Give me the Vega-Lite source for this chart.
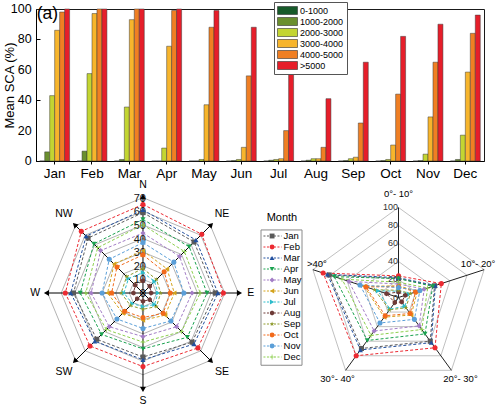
{
"$schema": "https://vega.github.io/schema/vega-lite/v6.json",
"padding": {"left": 2, "top": 1, "right": 0, "bottom": 0},
"autosize": {"type": "pad"},
"background": "white",
"config": {"font": "Liberation Sans", "view": {"stroke": null}},
"bounds": "flush",
"spacing": 23,
"resolve": {"scale": {"color": "independent", "shape": "independent"}},
"datasets": {
"sca": [
{"m":"Jan","e":"0-1000","v":0},{"m":"Jan","e":"1000-2000","v":6},{"m":"Jan","e":"2000-3000","v":43},{"m":"Jan","e":"3000-4000","v":86},{"m":"Jan","e":"4000-5000","v":98},{"m":"Jan","e":">5000","v":100},
{"m":"Feb","e":"0-1000","v":0},{"m":"Feb","e":"1000-2000","v":6.5},{"m":"Feb","e":"2000-3000","v":57.5},{"m":"Feb","e":"3000-4000","v":97},{"m":"Feb","e":"4000-5000","v":100},{"m":"Feb","e":">5000","v":100},
{"m":"Mar","e":"0-1000","v":0},{"m":"Mar","e":"1000-2000","v":1},{"m":"Mar","e":"2000-3000","v":35.5},{"m":"Mar","e":"3000-4000","v":93},{"m":"Mar","e":"4000-5000","v":100},{"m":"Mar","e":">5000","v":100},
{"m":"Apr","e":"0-1000","v":0},{"m":"Apr","e":"1000-2000","v":0},{"m":"Apr","e":"2000-3000","v":8.5},{"m":"Apr","e":"3000-4000","v":75.5},{"m":"Apr","e":"4000-5000","v":99},{"m":"Apr","e":">5000","v":100},
{"m":"May","e":"0-1000","v":0},{"m":"May","e":"1000-2000","v":0},{"m":"May","e":"2000-3000","v":1},{"m":"May","e":"3000-4000","v":37},{"m":"May","e":"4000-5000","v":88},{"m":"May","e":">5000","v":99},
{"m":"Jun","e":"0-1000","v":0},{"m":"Jun","e":"1000-2000","v":0.3},{"m":"Jun","e":"2000-3000","v":1},{"m":"Jun","e":"3000-4000","v":9},{"m":"Jun","e":"4000-5000","v":56},{"m":"Jun","e":">5000","v":88},
{"m":"Jul","e":"0-1000","v":0},{"m":"Jul","e":"1000-2000","v":0.5},{"m":"Jul","e":"2000-3000","v":1},{"m":"Jul","e":"3000-4000","v":1.5},{"m":"Jul","e":"4000-5000","v":20},{"m":"Jul","e":">5000","v":58},
{"m":"Aug","e":"0-1000","v":0},{"m":"Aug","e":"1000-2000","v":0.5},{"m":"Aug","e":"2000-3000","v":1.5},{"m":"Aug","e":"3000-4000","v":1.5},{"m":"Aug","e":"4000-5000","v":9},{"m":"Aug","e":">5000","v":41},
{"m":"Sep","e":"0-1000","v":0},{"m":"Sep","e":"1000-2000","v":0.3},{"m":"Sep","e":"2000-3000","v":1.5},{"m":"Sep","e":"3000-4000","v":2.5},{"m":"Sep","e":"4000-5000","v":25},{"m":"Sep","e":">5000","v":65},
{"m":"Oct","e":"0-1000","v":0},{"m":"Oct","e":"1000-2000","v":0.3},{"m":"Oct","e":"2000-3000","v":1},{"m":"Oct","e":"3000-4000","v":10.5},{"m":"Oct","e":"4000-5000","v":44},{"m":"Oct","e":">5000","v":82},
{"m":"Nov","e":"0-1000","v":0},{"m":"Nov","e":"1000-2000","v":0.3},{"m":"Nov","e":"2000-3000","v":4.5},{"m":"Nov","e":"3000-4000","v":29},{"m":"Nov","e":"4000-5000","v":65},{"m":"Nov","e":">5000","v":90},
{"m":"Dec","e":"0-1000","v":0},{"m":"Dec","e":"1000-2000","v":1},{"m":"Dec","e":"2000-3000","v":17},{"m":"Dec","e":"3000-4000","v":58.5},{"m":"Dec","e":"4000-5000","v":84},{"m":"Dec","e":">5000","v":96}
],
"yt": [{"t":0},{"t":20},{"t":40},{"t":60},{"t":80},{"t":100}],
"aspect": [
{"m":"Jan","d":"N","v":59},{"m":"Jan","d":"NE","v":53},{"m":"Jan","d":"E","v":53},{"m":"Jan","d":"SE","v":51},{"m":"Jan","d":"S","v":47},{"m":"Jan","d":"SW","v":48},{"m":"Jan","d":"W","v":51},{"m":"Jan","d":"NW","v":57},
{"m":"Feb","d":"N","v":65},{"m":"Feb","d":"NE","v":61},{"m":"Feb","d":"E","v":59},{"m":"Feb","d":"SE","v":57},{"m":"Feb","d":"S","v":54},{"m":"Feb","d":"SW","v":55},{"m":"Feb","d":"W","v":57},{"m":"Feb","d":"NW","v":64},
{"m":"Mar","d":"N","v":61},{"m":"Mar","d":"NE","v":55},{"m":"Mar","d":"E","v":55},{"m":"Mar","d":"SE","v":53},{"m":"Mar","d":"S","v":49},{"m":"Mar","d":"SW","v":50},{"m":"Mar","d":"W","v":53},{"m":"Mar","d":"NW","v":59},
{"m":"Apr","d":"N","v":54},{"m":"Apr","d":"NE","v":48},{"m":"Apr","d":"E","v":47},{"m":"Apr","d":"SE","v":46},{"m":"Apr","d":"S","v":41},{"m":"Apr","d":"SW","v":43},{"m":"Apr","d":"W","v":46},{"m":"Apr","d":"NW","v":51},
{"m":"May","d":"N","v":44},{"m":"May","d":"NE","v":38},{"m":"May","d":"E","v":36},{"m":"May","d":"SE","v":35},{"m":"May","d":"S","v":32},{"m":"May","d":"SW","v":35},{"m":"May","d":"W","v":38},{"m":"May","d":"NW","v":44},
{"m":"Jun","d":"N","v":31},{"m":"Jun","d":"NE","v":25},{"m":"Jun","d":"E","v":23},{"m":"Jun","d":"SE","v":23},{"m":"Jun","d":"S","v":20},{"m":"Jun","d":"SW","v":21},{"m":"Jun","d":"W","v":26},{"m":"Jun","d":"NW","v":30},
{"m":"Jul","d":"N","v":15},{"m":"Jul","d":"NE","v":12},{"m":"Jul","d":"E","v":11},{"m":"Jul","d":"SE","v":12},{"m":"Jul","d":"S","v":10},{"m":"Jul","d":"SW","v":11},{"m":"Jul","d":"W","v":14},{"m":"Jul","d":"NW","v":15},
{"m":"Aug","d":"N","v":9},{"m":"Aug","d":"NE","v":7},{"m":"Aug","d":"E","v":6},{"m":"Aug","d":"SE","v":7},{"m":"Aug","d":"S","v":6},{"m":"Aug","d":"SW","v":6},{"m":"Aug","d":"W","v":7},{"m":"Aug","d":"NW","v":8},
{"m":"Sep","d":"N","v":18},{"m":"Sep","d":"NE","v":14},{"m":"Sep","d":"E","v":13},{"m":"Sep","d":"SE","v":14},{"m":"Sep","d":"S","v":12},{"m":"Sep","d":"SW","v":13},{"m":"Sep","d":"W","v":16},{"m":"Sep","d":"NW","v":17},
{"m":"Oct","d":"N","v":28},{"m":"Oct","d":"NE","v":22},{"m":"Oct","d":"E","v":20},{"m":"Oct","d":"SE","v":21},{"m":"Oct","d":"S","v":18},{"m":"Oct","d":"SW","v":19},{"m":"Oct","d":"W","v":23},{"m":"Oct","d":"NW","v":27},
{"m":"Nov","d":"N","v":37},{"m":"Nov","d":"NE","v":32},{"m":"Nov","d":"E","v":30},{"m":"Nov","d":"SE","v":29},{"m":"Nov","d":"S","v":26},{"m":"Nov","d":"SW","v":27},{"m":"Nov","d":"W","v":30},{"m":"Nov","d":"NW","v":35},
{"m":"Dec","d":"N","v":50},{"m":"Dec","d":"NE","v":43},{"m":"Dec","d":"E","v":42},{"m":"Dec","d":"SE","v":40},{"m":"Dec","d":"S","v":36},{"m":"Dec","d":"SW","v":38},{"m":"Dec","d":"W","v":42},{"m":"Dec","d":"NW","v":47}
],
"slope": [
{"m":"Jan","s":"0°- 10°","v":21},{"m":"Jan","s":"10°- 20°","v":42},{"m":"Jan","s":"20°- 30°","v":60},{"m":"Jan","s":"30°- 40°","v":70},{"m":"Jan","s":">40°","v":81},
{"m":"Feb","s":"0°- 10°","v":24},{"m":"Feb","s":"10°- 20°","v":50},{"m":"Feb","s":"20°- 30°","v":69},{"m":"Feb","s":"30°- 40°","v":80},{"m":"Feb","s":">40°","v":88},
{"m":"Mar","s":"0°- 10°","v":22},{"m":"Mar","s":"10°- 20°","v":43},{"m":"Mar","s":"20°- 30°","v":62},{"m":"Mar","s":"30°- 40°","v":72},{"m":"Mar","s":">40°","v":83},
{"m":"Apr","s":"0°- 10°","v":21},{"m":"Apr","s":"10°- 20°","v":40},{"m":"Apr","s":"20°- 30°","v":50},{"m":"Apr","s":"30°- 40°","v":59},{"m":"Apr","s":">40°","v":75},
{"m":"May","s":"0°- 10°","v":15},{"m":"May","s":"10°- 20°","v":30},{"m":"May","s":"20°- 30°","v":39},{"m":"May","s":"30°- 40°","v":46},{"m":"May","s":">40°","v":58},
{"m":"Jun","s":"0°- 10°","v":13},{"m":"Jun","s":"10°- 20°","v":22},{"m":"Jun","s":"20°- 30°","v":24},{"m":"Jun","s":"30°- 40°","v":27},{"m":"Jun","s":">40°","v":40},
{"m":"Jul","s":"0°- 10°","v":7},{"m":"Jul","s":"10°- 20°","v":12},{"m":"Jul","s":"20°- 30°","v":12},{"m":"Jul","s":"30°- 40°","v":16},{"m":"Jul","s":">40°","v":24},
{"m":"Aug","s":"0°- 10°","v":6},{"m":"Aug","s":"10°- 20°","v":8},{"m":"Aug","s":"20°- 30°","v":6},{"m":"Aug","s":"30°- 40°","v":7},{"m":"Aug","s":">40°","v":14},
{"m":"Sep","s":"0°- 10°","v":8},{"m":"Sep","s":"10°- 20°","v":14},{"m":"Sep","s":"20°- 30°","v":14},{"m":"Sep","s":"30°- 40°","v":17},{"m":"Sep","s":">40°","v":28},
{"m":"Oct","s":"0°- 10°","v":12},{"m":"Oct","s":"10°- 20°","v":20},{"m":"Oct","s":"20°- 30°","v":22},{"m":"Oct","s":"30°- 40°","v":25},{"m":"Oct","s":">40°","v":38},
{"m":"Nov","s":"0°- 10°","v":11},{"m":"Nov","s":"10°- 20°","v":25},{"m":"Nov","s":"20°- 30°","v":30},{"m":"Nov","s":"30°- 40°","v":35},{"m":"Nov","s":">40°","v":45},
{"m":"Dec","s":"0°- 10°","v":17},{"m":"Dec","s":"10°- 20°","v":34},{"m":"Dec","s":"20°- 30°","v":44},{"m":"Dec","s":"30°- 40°","v":52},{"m":"Dec","s":">40°","v":66}
],
"dirs": [{"d":"N"},{"d":"NE"},{"d":"E"},{"d":"SE"},{"d":"S"},{"d":"SW"},{"d":"W"},{"d":"NW"}],
"ringsB": [{"r":10,"k":[0,1,2,3,4,5,6,7]},{"r":20,"k":[0,1,2,3,4,5,6,7]},{"r":30,"k":[0,1,2,3,4,5,6,7]},{"r":40,"k":[0,1,2,3,4,5,6,7]},{"r":50,"k":[0,1,2,3,4,5,6,7]},{"r":60,"k":[0,1,2,3,4,5,6,7]},{"r":70,"k":[0,1,2,3,4,5,6,7]}],
"ticksB": [{"t":0},{"t":10},{"t":20},{"t":30},{"t":40},{"t":50},{"t":60},{"t":70}],
"cats": [{"s":"0°- 10°"},{"s":"10°- 20°"},{"s":"20°- 30°"},{"s":"30°- 40°"},{"s":">40°"}],
"ringsC": [{"r":20,"k":[0,1,2,3,4]},{"r":40,"k":[0,1,2,3,4]},{"r":60,"k":[0,1,2,3,4]},{"r":80,"k":[0,1,2,3,4]},{"r":100,"k":[0,1,2,3,4]}],
"ticksC": [{"t":0},{"t":20},{"t":40},{"t":60},{"t":80},{"t":100}],
"months": [{"m":"Jan"},{"m":"Feb"},{"m":"Mar"},{"m":"Apr"},{"m":"May"},{"m":"Jun"},{"m":"Jul"},{"m":"Aug"},{"m":"Sep"},{"m":"Oct"},{"m":"Nov"},{"m":"Dec"}]
},
"vconcat": [
{
 "width": 448, "height": 152,
 "view": {"stroke": "#1a1a1a", "strokeWidth": 1},
 "layer": [
  {"data": {"name": "sca"},
   "mark": {"type": "bar", "stroke": "#3a3a3a", "strokeWidth": 0.5},
   "encoding": {
    "x": {"field": "m", "type": "nominal", "sort": ["Jan","Feb","Mar","Apr","May","Jun","Jul","Aug","Sep","Oct","Nov","Dec"],
          "scale": {"paddingInner": 0.2, "paddingOuter": 0.1},
          "axis": {"title": null, "labelAngle": 0, "labelFontSize": 13.5, "labelColor": "#000", "tickSize": 3, "tickColor": "#000", "domainColor": "#000", "labelPadding": 2}},
    "xOffset": {"field": "e", "type": "nominal", "sort": ["0-1000","1000-2000","2000-3000","3000-4000","4000-5000",">5000"]},
    "y": {"field": "v", "type": "quantitative", "scale": {"domain": [0, 100], "nice": false},
          "axis": {"title": "Mean SCA (%)", "titleFontSize": 13, "titleFontWeight": "normal", "titleColor": "#000", "titleX": -20, "titleY": 76, "titleAlign": "center", "titleBaseline": "bottom", "titleAngle": -90,
                   "values": [0,10,20,30,40,50,60,70,80,90,100], "labels": false,
                   "grid": false, "domainColor": "#000", "tickColor": "#000",
                   "tickSize": {"condition": {"test": "datum.value % 20 == 0", "value": -4}, "value": -2}}},
    "color": {"field": "e", "type": "nominal",
              "scale": {"domain": ["0-1000","1000-2000","2000-3000","3000-4000","4000-5000",">5000"], "range": ["#175a2a","#6a8f2e","#c3d532","#f7b52c","#f07f23","#e61e2a"]},
              "legend": {"orient": "none", "legendX": 238, "legendY": -7, "title": null, "symbolType": "M-2,-0.8H2V0.8H-2Z", "symbolSize": 100,
                         "symbolStrokeColor": "#333", "symbolStrokeWidth": 0.6, "symbolOpacity": 1, "symbolOffset": 5, "labelFontSize": 9, "labelColor": "#000",
                         "labelOffset": 7, "rowPadding": -1.3, "padding": 3, "strokeColor": "#555", "fillColor": "#fff"}}
   }},
  {"data": {"name": "yt"},
   "mark": {"type": "text", "align": "right", "baseline": "middle", "dx": -23, "fontSize": 12.5, "color": "#000"},
   "encoding": {"x": {"datum": "Jan"}, "y": {"field": "t", "type": "quantitative"}, "text": {"field": "t", "type": "quantitative"}}},
  {"data": {"values": [{}]},
   "mark": {"type": "text", "text": "(a)", "fontSize": 17.5, "align": "left", "baseline": "top", "dx": -18, "dy": -4, "color": "#000"},
   "encoding": {"x": {"datum": "Jan"}, "y": {"datum": 100}}}
 ]
},
{
 "hconcat": [
  {
   "width": 216, "height": 218,
   "encoding": {
    "x": {"field": "px", "type": "quantitative", "scale": {"domain": [-78.5, 80], "nice": false, "zero": false}, "axis": null},
    "y": {"field": "py", "type": "quantitative", "scale": {"domain": [-80, 80], "nice": false, "zero": false}, "axis": null}
   },
   "layer": [
    {"data": {"name": "ringsB"},
     "transform": [{"flatten": ["k"]}, {"calculate": "datum.r*sin(datum.k*PI/4)", "as": "px"}, {"calculate": "datum.r*cos(datum.k*PI/4)", "as": "py"}],
     "mark": {"type": "line", "interpolate": "linear-closed", "color": "#a0a0a0", "strokeWidth": 0.8},
     "encoding": {"detail": {"field": "r", "type": "nominal"}, "order": {"field": "k", "type": "quantitative"}}},
    {"data": {"name": "dirs"},
     "transform": [{"calculate": "indexof(['N','NE','E','SE','S','SW','W','NW'], datum.d)", "as": "i"}, {"calculate": "0", "as": "px"}, {"calculate": "0", "as": "py"},
                   {"calculate": "70.8*sin(datum.i*PI/4)", "as": "ex"}, {"calculate": "70.8*cos(datum.i*PI/4)", "as": "ey"}],
     "mark": {"type": "rule", "color": "#000", "strokeWidth": 1},
     "encoding": {"x2": {"field": "ex"}, "y2": {"field": "ey"}}},
    {"data": {"name": "dirs"},
     "transform": [{"calculate": "indexof(['N','NE','E','SE','S','SW','W','NW'], datum.d)", "as": "i"},
                   {"calculate": "70.8*sin(datum.i*PI/4)", "as": "px"}, {"calculate": "70.8*cos(datum.i*PI/4)", "as": "py"}, {"calculate": "datum.i*45", "as": "ang"}],
     "mark": {"type": "point", "shape": "triangle-up", "filled": true, "color": "#000", "size": 36, "opacity": 1},
     "encoding": {"angle": {"field": "ang", "type": "quantitative", "scale": null}}},
    {"data": {"name": "dirs"},
     "transform": [{"calculate": "indexof(['N','NE','E','SE','S','SW','W','NW'], datum.d)", "as": "i"}, {"calculate": "datum.i % 2 == 0 ? 79 : 82", "as": "lr"},
                   {"calculate": "datum.lr*sin(datum.i*PI/4)", "as": "px"}, {"calculate": "datum.lr*cos(datum.i*PI/4)", "as": "py"}],
     "mark": {"type": "text", "fontSize": 10.5, "color": "#000", "align": "center", "baseline": "middle"},
     "encoding": {"text": {"field": "d"}}},
    {"data": {"name": "ticksB"},
     "transform": [{"calculate": "0", "as": "px"}, {"calculate": "datum.t", "as": "py"}],
     "mark": {"type": "text", "align": "right", "baseline": "middle", "dx": 3, "dy": 1, "fontSize": 11, "color": "#111"},
     "encoding": {"text": {"field": "t", "type": "quantitative"}}},
    {"data": {"values": [{}]},
     "mark": {"type": "text", "text": "(b)", "fontSize": 17.5, "align": "left", "baseline": "middle", "color": "#000"},
     "encoding": {"x": {"datum": -78.5}, "y": {"datum": 72.7}}},
    {"data": {"name": "aspect"},
     "transform": [{"calculate": "indexof(['N','NE','E','SE','S','SW','W','NW'], datum.d)", "as": "i"},
                   {"calculate": "datum.v*sin(datum.i*PI/4)", "as": "px"}, {"calculate": "datum.v*cos(datum.i*PI/4)", "as": "py"}],
     "mark": {"type": "line", "interpolate": "linear-closed", "strokeDash": [3, 2], "strokeWidth": 1},
     "encoding": {"color": {"field": "m", "type": "nominal", "scale": {"domain": ["Jan","Feb","Mar","Apr","May","Jun","Jul","Aug","Sep","Oct","Nov","Dec"], "range": ["#5a5a5a","#ec2a32","#22509f","#1aa24f","#a37dc6","#d4a31c","#2dbccb","#6e3a37","#8e9a2b","#f26a1b","#5b9fd8","#8ccf4d"]}, "legend": null},
                  "order": {"field": "i", "type": "quantitative"}}},
    {"data": {"name": "aspect"},
     "transform": [{"calculate": "indexof(['N','NE','E','SE','S','SW','W','NW'], datum.d)", "as": "i"},
                   {"calculate": "datum.v*sin(datum.i*PI/4)", "as": "px"}, {"calculate": "datum.v*cos(datum.i*PI/4)", "as": "py"}],
     "mark": {"type": "point", "filled": true, "size": 26, "opacity": 1},
     "encoding": {"color": {"field": "m", "type": "nominal", "legend": null},
                  "shape": {"field": "m", "type": "nominal", "scale": {"domain": ["Jan","Feb","Mar","Apr","May","Jun","Jul","Aug","Sep","Oct","Nov","Dec"], "range": ["square","circle","triangle-up","triangle-down","diamond","triangle-left","triangle-right","M0,-1L0.866,-0.5L0.866,0.5L0,1L-0.866,0.5L-0.866,-0.5Z","M0,-1L0.2245,-0.309L0.951,-0.309L0.363,0.118L0.588,0.809L0,0.382L-0.588,0.809L-0.363,0.118L-0.951,-0.309L-0.2245,-0.309Z","circle","circle","M-1,-0.15H-0.15V-1H0.15V-0.15H1V0.15H0.15V1H-0.15V0.15H-1Z"]}, "legend": null}}}
   ]
  },
  {
   "width": 41, "height": 218,
   "layer": [
    {"data": {"values": [{}]},
     "mark": {"type": "rect", "fill": "#fff", "stroke": "#8a8a8a", "strokeWidth": 1},
     "encoding": {"x": {"datum": 0, "type": "quantitative", "scale": {"domain": [0, 1], "nice": false, "zero": false}, "axis": null}, "x2": {"datum": 1},
                  "y": {"datum": -0.55, "type": "quantitative", "scale": {"domain": [-4.727, 15.09], "reverse": true, "nice": false, "zero": false}, "axis": null}, "y2": {"datum": 11.75}}},
    {"data": {"values": [{}]},
     "mark": {"type": "text", "text": "Month", "fontSize": 11, "color": "#000"},
     "encoding": {"x": {"datum": 0.51, "type": "quantitative"}, "y": {"datum": -1.64, "type": "quantitative"}}},
    {"data": {"name": "months"},
     "transform": [{"calculate": "indexof(['Jan','Feb','Mar','Apr','May','Jun','Jul','Aug','Sep','Oct','Nov','Dec'], datum.m)", "as": "idx"}],
     "mark": {"type": "rule", "strokeDash": [2, 1.5], "strokeWidth": 1},
     "encoding": {"x": {"datum": 0.06, "type": "quantitative"}, "x2": {"datum": 0.5}, "y": {"field": "idx", "type": "quantitative"},
                  "color": {"field": "m", "type": "nominal", "legend": null}}},
    {"data": {"name": "months"},
     "transform": [{"calculate": "indexof(['Jan','Feb','Mar','Apr','May','Jun','Jul','Aug','Sep','Oct','Nov','Dec'], datum.m)", "as": "idx"}],
     "mark": {"type": "point", "filled": true, "size": 24, "opacity": 1},
     "encoding": {"x": {"datum": 0.27, "type": "quantitative"}, "y": {"field": "idx", "type": "quantitative"},
                  "color": {"field": "m", "type": "nominal", "legend": null}, "shape": {"field": "m", "type": "nominal", "legend": null}}},
    {"data": {"name": "months"},
     "transform": [{"calculate": "indexof(['Jan','Feb','Mar','Apr','May','Jun','Jul','Aug','Sep','Oct','Nov','Dec'], datum.m)", "as": "idx"}],
     "mark": {"type": "text", "align": "left", "baseline": "middle", "fontSize": 9.5, "color": "#000"},
     "encoding": {"x": {"datum": 0.55, "type": "quantitative"}, "y": {"field": "idx", "type": "quantitative"}, "text": {"field": "m"}}}
   ]
  },
  {
   "width": 186, "height": 218,
   "encoding": {
    "x": {"field": "px", "type": "quantitative", "scale": {"domain": [-97.2, 109.4], "nice": false, "zero": false}, "axis": null},
    "y": {"field": "py", "type": "quantitative", "scale": {"domain": [-116.1, 126.1], "nice": false, "zero": false}, "axis": null}
   },
   "layer": [
    {"data": {"name": "ringsC"},
     "transform": [{"flatten": ["k"]}, {"calculate": "datum.r*sin(datum.k*2*PI/5)", "as": "px"}, {"calculate": "datum.r*cos(datum.k*2*PI/5)", "as": "py"}],
     "mark": {"type": "line", "interpolate": "linear-closed", "color": "#b0b0b0", "strokeWidth": 0.8},
     "encoding": {"detail": {"field": "r", "type": "nominal"}, "order": {"field": "k", "type": "quantitative"}}},
    {"data": {"name": "cats"},
     "transform": [{"calculate": "indexof(['0°- 10°','10°- 20°','20°- 30°','30°- 40°','>40°'], datum.s)", "as": "i"}, {"calculate": "0", "as": "px"}, {"calculate": "0", "as": "py"},
                   {"calculate": "100*sin(datum.i*2*PI/5)", "as": "ex"}, {"calculate": "100*cos(datum.i*2*PI/5)", "as": "ey"}],
     "mark": {"type": "rule", "color": "#222", "strokeWidth": 1},
     "encoding": {"x2": {"field": "ex"}, "y2": {"field": "ey"}}},
    {"data": {"name": "ticksC"},
     "transform": [{"calculate": "0", "as": "px"}, {"calculate": "datum.t", "as": "py"}],
     "mark": {"type": "text", "align": "right", "baseline": "middle", "dx": -0.5, "fontSize": 9, "color": "#333"},
     "encoding": {"text": {"field": "t", "type": "quantitative"}}},
    {"data": {"name": "cats"},
     "transform": [{"filter": "datum.s == '0°- 10°'"}, {"calculate": "0", "as": "px"}, {"calculate": "100", "as": "py"}],
     "mark": {"type": "text", "align": "center", "baseline": "middle", "dy": -13, "fontSize": 9.5, "color": "#000"},
     "encoding": {"text": {"field": "s"}}},
    {"data": {"name": "cats"},
     "transform": [{"filter": "datum.s == '10°- 20°'"}, {"calculate": "100*sin(2*PI/5)", "as": "px"}, {"calculate": "100*cos(2*PI/5)", "as": "py"}],
     "mark": {"type": "text", "align": "center", "baseline": "middle", "dx": -6, "dy": -6, "fontSize": 9.5, "color": "#000"},
     "encoding": {"text": {"field": "s"}}},
    {"data": {"name": "cats"},
     "transform": [{"filter": "datum.s == '20°- 30°'"}, {"calculate": "100*sin(4*PI/5)", "as": "px"}, {"calculate": "100*cos(4*PI/5)", "as": "py"}],
     "mark": {"type": "text", "align": "center", "baseline": "middle", "dx": 9, "dy": 9, "fontSize": 9.5, "color": "#000"},
     "encoding": {"text": {"field": "s"}}},
    {"data": {"name": "cats"},
     "transform": [{"filter": "datum.s == '30°- 40°'"}, {"calculate": "100*sin(6*PI/5)", "as": "px"}, {"calculate": "100*cos(6*PI/5)", "as": "py"}],
     "mark": {"type": "text", "align": "center", "baseline": "middle", "dx": -8, "dy": 9, "fontSize": 9.5, "color": "#000"},
     "encoding": {"text": {"field": "s"}}},
    {"data": {"name": "cats"},
     "transform": [{"filter": "datum.s == '>40°'"}, {"calculate": "100*sin(8*PI/5)", "as": "px"}, {"calculate": "100*cos(8*PI/5)", "as": "py"}],
     "mark": {"type": "text", "align": "center", "baseline": "middle", "dx": 4, "dy": -6, "fontSize": 9.5, "color": "#000"},
     "encoding": {"text": {"field": "s"}}},
    {"data": {"values": [{}]},
     "mark": {"type": "text", "text": "(c)", "fontSize": 17.5, "align": "left", "baseline": "middle", "color": "#000"},
     "encoding": {"x": {"datum": -77.2}, "y": {"datum": 112}}},
    {"data": {"name": "slope"},
     "transform": [{"calculate": "indexof(['0°- 10°','10°- 20°','20°- 30°','30°- 40°','>40°'], datum.s)", "as": "i"},
                   {"calculate": "datum.v*sin(datum.i*2*PI/5)", "as": "px"}, {"calculate": "datum.v*cos(datum.i*2*PI/5)", "as": "py"}],
     "mark": {"type": "line", "interpolate": "linear-closed", "strokeDash": [3, 2], "strokeWidth": 1},
     "encoding": {"color": {"field": "m", "type": "nominal", "legend": null}, "order": {"field": "i", "type": "quantitative"}}},
    {"data": {"name": "slope"},
     "transform": [{"calculate": "indexof(['0°- 10°','10°- 20°','20°- 30°','30°- 40°','>40°'], datum.s)", "as": "i"},
                   {"calculate": "datum.v*sin(datum.i*2*PI/5)", "as": "px"}, {"calculate": "datum.v*cos(datum.i*2*PI/5)", "as": "py"}],
     "mark": {"type": "point", "filled": true, "size": 26, "opacity": 1},
     "encoding": {"color": {"field": "m", "type": "nominal", "legend": null}, "shape": {"field": "m", "type": "nominal", "legend": null}}}
   ]
  }
 ],
 "spacing": 9,
 "bounds": "flush"
}
]
}
